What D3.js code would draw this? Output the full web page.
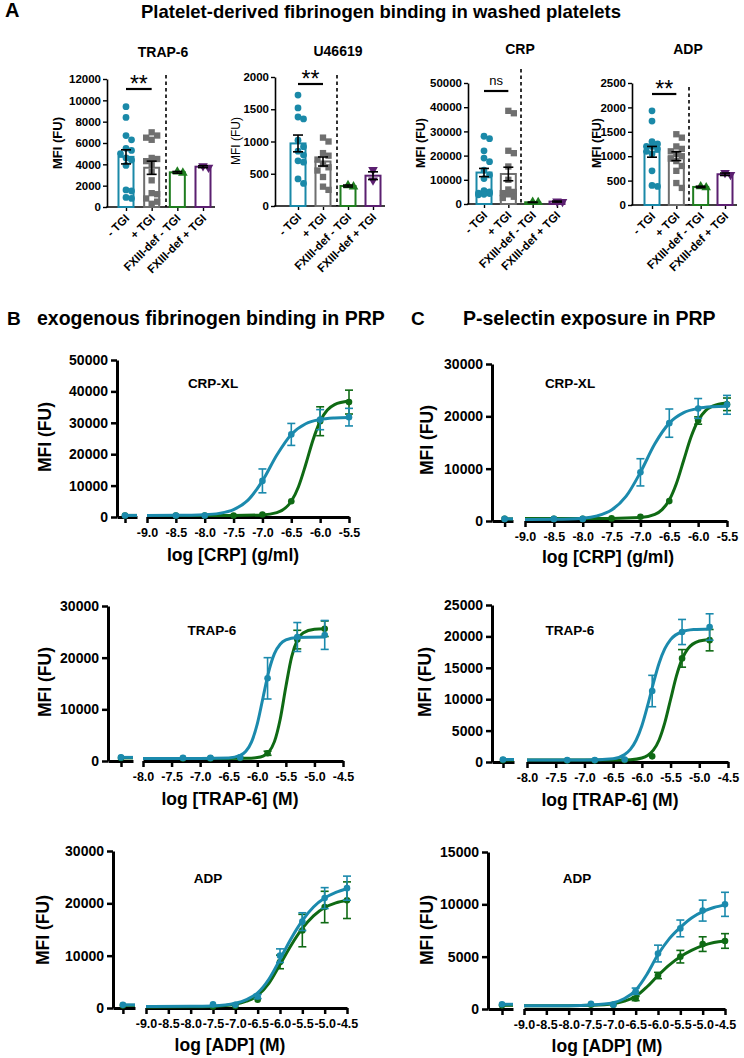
<!DOCTYPE html>
<html><head><meta charset="utf-8">
<script src="https://cdn.jsdelivr.net/npm/d3@7"></script>
<style>
body{margin:0;background:#fff}
svg{display:block}
text{font-family:"Liberation Sans",Arial,Helvetica,sans-serif}
</style>
</head><body>
<svg id="c" width="744" height="1058"></svg>
<script>
// ---------------- DATA : panel A ----------------
const barGroups = ["- TGI", "+ TGI", "FXIII-def - TGI", "FXIII-def + TGI"];
const barPanels = ["TRAP-6", "U46619", "CRP", "ADP"];
const barYMax = [12000, 2000, 50000, 2500];
const barYStep = [2000, 500, 10000, 500];
const sigLabels = ["**", "**", "ns", "**"];

const trapMeans = [4700, 3680, 3250, 3780];
const trapSems = [660, 620, 80, 90];
const trapPts = [
  [9400, 8400, 6700, 6300, 5500, 5300, 5000, 4600, 4400, 3900, 1600, 1500, 900, 800],
  [7000, 6700, 6500, 6300, 4600, 4500, 4300, 4000, 3300, 2500, 1300, 1200, 800, 500, 300],
  [3200, 3300],
  [3850, 3700]
];
const u466Means = [970, 690, 310, 470];
const u466Sems = [130, 70, 15, 60];
const u466Pts = [
  [1720, 1520, 1380, 1350, 1020, 920, 850, 790, 700, 680, 420, 350],
  [1060, 1000, 820, 780, 720, 650, 600, 550, 450, 300, 250],
  [300, 320],
  [560, 400]
];
const crpMeans = [13000, 12400, 700, 1000];
const crpSems = [1700, 2800, 100, 200];
const crpPts = [
  [28000, 27000, 22000, 19000, 17500, 14000, 12000, 10500, 5500, 5000, 4500, 4300, 4000, 3800],
  [38500, 37500, 22000, 21000, 15500, 10000, 6000, 5000, 4500, 4000, 3000, 2500],
  [700, 800],
  [1100, 900]
];
const adpMeans = [1090, 1000, 370, 630];
const adpSems = [110, 90, 15, 25];
const adpPts = [
  [1930, 1720, 1300, 1250, 1200, 1200, 1150, 1100, 1050, 700, 400, 380],
  [1450, 1380, 1200, 1150, 1100, 1050, 1000, 950, 900, 800, 700, 450, 350],
  [380, 360],
  [660, 620]
];

// ---------------- DATA : panels B / C ----------------
const crpTicks = [-9.0, -8.5, -8.0, -7.5, -7.0, -6.5, -6.0, -5.5];
const trapTicks = [-8.0, -7.5, -7.0, -6.5, -6.0, -5.5, -5.0, -4.5];
const adpTicks = [-9.0, -8.5, -8.0, -7.5, -7.0, -6.5, -6.0, -5.5, -5.0, -4.5];

// B1 fibrinogen / CRP-XL
const fibCrpTealX = [-8.5, -8.0, -7.0, -6.5, -6.0, -5.5];
const fibCrpTealY = [500, 500, 11500, 26300, 31000, 31800];
const fibCrpTealSem = [150, 150, 3800, 3500, 3200, 2800];
const fibCrpGreenX = [-8.5, -8.0, -7.5, -7.0, -6.5, -6.0, -5.5];
const fibCrpGreenY = [500, 500, 500, 800, 5000, 30500, 36600];
const fibCrpGreenSem = [100, 100, 100, 200, 400, 4600, 3800];
const fibCrpTealCurveX = [-9.0, -8.5, -8.0, -7.75, -7.5, -7.25, -7.0, -6.75, -6.5, -6.25, -6.0, -5.75, -5.5];
const fibCrpTealCurveY = [500, 525, 725, 1150, 2350, 5360, 11490, 19740, 26290, 29700, 31040, 31540, 31700];
const fibCrpGreenCurveX = [-9.0, -8.0, -7.5, -7.0, -6.75, -6.5, -6.375, -6.25, -6.125, -6.0, -5.875, -5.75, -5.5];
const fibCrpGreenCurveY = [500, 500, 505, 660, 1385, 5000, 9650, 16700, 24450, 30500, 34050, 35800, 36940];
const fibCrpVehicle = [500, 500];

// B2 fibrinogen / TRAP-6
const fibTrapX = [-7.3, -6.82, -6.3, -5.82, -5.3, -4.82];
const fibTrapTealY = [600, 600, 700, 16000, 24000, 24400];
const fibTrapTealSem = [100, 100, 150, 4000, 2800, 2800];
const fibTrapGreenY = [500, 500, 600, 1500, 23500, 25600];
const fibTrapGreenSem = [100, 100, 100, 400, 1800, 1500];
const fibTrapTealCurveX = [-8.0, -7.0, -6.5, -6.3, -6.2, -6.1, -6.0, -5.9, -5.8, -5.7, -5.6, -5.5, -5.3, -4.82];
const fibTrapTealCurveY = [500, 500, 593, 1080, 1894, 3715, 7190, 12250, 17310, 20780, 22610, 23420, 23900, 24000];
const fibTrapGreenCurveX = [-8.0, -6.5, -6.2, -6.0, -5.9, -5.8, -5.7, -5.6, -5.5, -5.4, -5.3, -5.2, -5.0, -4.82];
const fibTrapGreenCurveY = [500, 500, 519, 656, 940, 1730, 3750, 8040, 14380, 20110, 23380, 24780, 25500, 25600];
const fibTrapVehicle = [700, 600];

// B3 fibrinogen / ADP
const fibAdpX = [-7.5, -7.0, -6.5, -6.0, -5.5, -5.0, -4.5];
const fibAdpTealY = [700, 600, 2200, 10000, 16500, 21000, 22900];
const fibAdpTealSem = [150, 150, 400, 1300, 1700, 2000, 2300];
const fibAdpGreenY = [300, 400, 1600, 8800, 14800, 19300, 20600];
const fibAdpGreenSem = [100, 100, 300, 1300, 3100, 3000, 3500];
const fibAdpCurveX = [-9.0, -8.0, -7.5, -7.0, -6.75, -6.5, -6.25, -6.0, -5.75, -5.5, -5.25, -5.0, -4.75, -4.5];
const fibAdpTealCurveY = [300, 320, 400, 900, 1600, 2900, 5500, 9300, 13300, 16700, 19300, 21000, 22100, 22800];
const fibAdpGreenCurveY = [200, 220, 300, 700, 1300, 2400, 4700, 8300, 12000, 15200, 17600, 19200, 20100, 20600];
const fibAdpVehicle = [600, 500];

// C1 P-selectin / CRP-XL
const pselCrpTealX = [-8.5, -8.0, -7.0, -6.5, -6.0, -5.5];
const pselCrpTealY = [400, 400, 9300, 18700, 21500, 22200];
const pselCrpTealSem = [100, 100, 2600, 2700, 1900, 1800];
const pselCrpGreenX = [-8.5, -8.0, -7.5, -7.0, -6.5, -6.0, -5.5];
const pselCrpGreenY = [400, 400, 500, 800, 3800, 19200, 22300];
const pselCrpGreenSem = [100, 100, 100, 150, 300, 700, 1200];
const pselCrpTealCurveX = [-9.0, -8.5, -8.0, -7.75, -7.5, -7.25, -7.0, -6.75, -6.5, -6.25, -6.0, -5.75, -5.5];
const pselCrpTealCurveY = [300, 330, 547, 980, 2100, 4690, 9300, 14750, 18700, 20700, 21520, 21830, 21930];
const pselCrpGreenCurveX = [-9.0, -7.5, -7.0, -6.75, -6.625, -6.5, -6.375, -6.25, -6.125, -6.0, -5.875, -5.75, -5.5];
const pselCrpGreenCurveY = [500, 500, 646, 1250, 2170, 4000, 7210, 11600, 15990, 19200, 21040, 21950, 22550];
const pselCrpVehicle = [400, 400];

// C2 P-selectin / TRAP-6
const pselTrapX = [-7.3, -6.82, -6.3, -5.82, -5.3, -4.82];
const pselTrapTealY = [300, 300, 400, 11300, 20700, 21500];
const pselTrapTealSem = [80, 80, 100, 2500, 2000, 2100];
const pselTrapGreenY = [250, 250, 300, 900, 16500, 19400];
const pselTrapGreenSem = [80, 80, 80, 200, 1400, 1700];
const pselTrapTealCurveX = [-8.0, -7.0, -6.5, -6.3, -6.2, -6.1, -6.0, -5.9, -5.8, -5.7, -5.6, -5.5, -5.3, -5.1, -4.82];
const pselTrapTealCurveY = [300, 300, 530, 1190, 2010, 3460, 5770, 8970, 12530, 15730, 18040, 19490, 20740, 21080, 21190];
const pselTrapGreenCurveX = [-8.0, -6.5, -6.2, -6.0, -5.9, -5.8, -5.7, -5.6, -5.5, -5.4, -5.3, -5.2, -5.0, -4.82];
const pselTrapGreenCurveY = [300, 300, 370, 640, 1040, 1880, 3510, 6260, 9950, 13640, 16380, 18020, 19260, 19520];
const pselTrapVehicle = [400, 300];

// C3 P-selectin / ADP
const pselAdpX = [-7.5, -7.0, -6.5, -6.0, -5.5, -5.0, -4.5];
const pselAdpTealY = [500, 400, 1700, 5300, 7700, 9400, 10000];
const pselAdpTealSem = [100, 100, 300, 800, 800, 1000, 1150];
const pselAdpGreenY = [400, 400, 1000, 3200, 5000, 6200, 6500];
const pselAdpGreenSem = [100, 100, 200, 300, 600, 700, 700];
const pselAdpCurveX = [-9.0, -8.0, -7.5, -7.0, -6.75, -6.5, -6.25, -6.0, -5.75, -5.5, -5.25, -5.0, -4.75, -4.5];
const pselAdpTealCurveY = [300, 320, 380, 600, 1000, 1800, 3300, 5200, 6700, 7800, 8700, 9300, 9700, 9950];
const pselAdpGreenCurveY = [300, 310, 350, 500, 750, 1200, 2100, 3200, 4200, 5000, 5600, 6050, 6350, 6500];
const pselAdpVehicle = [450, 350];

// ---------------- DRAWING ----------------
const svg = d3.select("#c");
const TEAL = "#1a89a8", GRAY = "#6f6f6f", GREEN_A = "#1f7d1f", PURPLE = "#5b1f70";
const C_TEAL = "#1b8aad", C_GREEN = "#0f6a14";
const barColors = [TEAL, GRAY, GREEN_A, PURPLE];
const barSymbols = [d3.symbolCircle, d3.symbolSquare, d3.symbolTriangle, d3.symbolTriangle];
const barSymSize = [36, 40, 40, 40];

function txt(g, x, y, s, size, weight, anchor) {
  return g.append("text").attr("x", x).attr("y", y).attr("font-size", size)
    .attr("font-weight", weight || "bold").attr("text-anchor", anchor || "middle").attr("fill", "#000").text(s);
}
function vtxt(g, cx, cy, s, size, weight) {
  return g.append("text").attr("transform", `translate(${cx + size * 0.36},${cy}) rotate(-90)`)
    .attr("font-size", size).attr("font-weight", weight || "bold").attr("text-anchor", "middle").text(s);
}

function swarm(vals, y, cx, d, maxOff) {
  const order = vals.map((v, i) => i).sort((a, b) => vals[b] - vals[a]);
  const placed = [], xs = new Array(vals.length);
  const cands = [0];
  for (let k = 1; k <= 3; k++) cands.push(k * d * 0.85, -k * d * 0.85);
  order.forEach(i => {
    const py = y(vals[i]);
    let best = 0, bestOv = Infinity;
    for (const o of cands) {
      if (Math.abs(o) > maxOff) continue;
      let ov = 0;
      for (const p of placed) { const dist = Math.hypot(p[0] - o, p[1] - py); if (dist < d) ov += d - dist; }
      if (ov === 0) { best = o; bestOv = 0; break; }
      if (ov < bestOv) { bestOv = ov; best = o; }
    }
    xs[i] = cx + best; placed.push([best, py]);
  });
  return xs;
}

// Title panel A
txt(svg, 5, 17, "A", 20, "bold", "start");
txt(svg, 381, 18, "Platelet-derived fibrinogen binding in washed platelets", 18.5);

const barLayouts = [
  {axisX:107, axisEnd:215, y0:207, yTop:79, c0:126, c3:203, dashX:166, dashTop:75, tx:163, ty:57, lx:57, ly:143, lfs:13, lw:"bold", sigY:89},
  {axisX:275, axisEnd:385, y0:206, yTop:77, c0:298, c3:373, dashX:337, dashTop:75, tx:338, ty:56, lx:236, ly:141, lfs:12, lw:"normal", sigY:84},
  {axisX:468, axisEnd:563, y0:204, yTop:83, c0:484, c3:557, dashX:521, dashTop:69, tx:520, ty:54, lx:420, ly:143, lfs:12.5, lw:"bold", sigY:91},
  {axisX:632, axisEnd:737, y0:205, yTop:83, c0:652, c3:725, dashX:689, dashTop:87, tx:688, ty:54, lx:596, ly:143, lfs:12.5, lw:"bold", sigY:94}
];
const barSets = [
  {means: trapMeans, sems: trapSems, pts: trapPts},
  {means: u466Means, sems: u466Sems, pts: u466Pts},
  {means: crpMeans, sems: crpSems, pts: crpPts},
  {means: adpMeans, sems: adpSems, pts: adpPts}
];

barLayouts.forEach((L, k) => {
  const D = barSets[k];
  const g = svg.append("g");
  const y = d3.scaleLinear().domain([0, barYMax[k]]).range([L.y0, L.yTop]);
  const x = d3.scalePoint().domain(barGroups).range([L.c0, L.c3]);
  const ya = g.append("g").attr("transform", `translate(${L.axisX},0)`)
    .call(d3.axisLeft(y).tickValues(d3.range(0, barYMax[k] + 1, barYStep[k])).tickSize(4).tickSizeOuter(0).tickPadding(2).tickFormat(d3.format("d")));
  ya.select(".domain").attr("stroke-width", 1.6);
  ya.selectAll(".tick line").attr("stroke-width", 1.4);
  ya.selectAll("text").attr("font-size", 11.5).attr("font-weight", "bold").attr("fill", "#000");
  g.append("line").attr("x1", L.axisX - 0.8).attr("x2", L.axisEnd).attr("y1", L.y0).attr("y2", L.y0).attr("stroke", "#000").attr("stroke-width", 1.6);
  const xa = g.append("g").attr("transform", `translate(0,${L.y0})`).call(d3.axisBottom(x).tickSize(4).tickFormat(""));
  xa.select(".domain").remove();
  xa.selectAll(".tick line").attr("stroke-width", 1.4);
  barGroups.forEach(lbl => {
    g.append("text").attr("transform", `translate(${x(lbl) + 4},${L.y0 + 12}) rotate(-45)`)
      .attr("text-anchor", "end").attr("font-size", 11.5).attr("font-weight", "bold").text(lbl);
  });
  // bars
  D.means.forEach((m, i) => {
    g.append("rect").attr("x", x(barGroups[i]) - 7.5).attr("y", y(m)).attr("width", 15)
      .attr("height", Math.max(0, L.y0 - y(m))).attr("fill", "#fff").attr("stroke", barColors[i]).attr("stroke-width", 2);
  });
  // points
  D.pts.forEach((vals, i) => {
    const xs = swarm(vals, y, x(barGroups[i]), 6.5, 6);
    const sym = d3.symbol().type(barSymbols[i]).size(barSymSize[i]);
    vals.forEach((v, j) => {
      g.append("path").attr("d", sym()).attr("fill", barColors[i])
        .attr("transform", `translate(${xs[j]},${y(v)})` + (i === 3 ? " rotate(180)" : ""));
    });
  });
  // error bars
  D.means.forEach((m, i) => {
    const cx = x(barGroups[i]), s = D.sems[i];
    const eb = g.append("g").attr("stroke", "#000").attr("stroke-width", 1.6);
    eb.append("line").attr("x1", cx).attr("x2", cx).attr("y1", y(m - s)).attr("y2", y(m + s));
    [m - s, m + s].forEach(v => eb.append("line").attr("x1", cx - 5).attr("x2", cx + 5).attr("y1", y(v)).attr("y2", y(v)));
  });
  // dashed separator
  g.append("line").attr("x1", L.dashX).attr("x2", L.dashX).attr("y1", L.dashTop).attr("y2", L.y0)
    .attr("stroke", "#000").attr("stroke-width", 1.6).attr("stroke-dasharray", "3.5,3");
  // significance
  g.append("line").attr("x1", x(barGroups[0])).attr("x2", x(barGroups[1])).attr("y1", L.sigY).attr("y2", L.sigY)
    .attr("stroke", "#000").attr("stroke-width", 2.2);
  const mid = (x(barGroups[0]) + x(barGroups[1])) / 2;
  if (sigLabels[k] === "ns") txt(g, mid, L.sigY - 6, "ns", 13, "normal");
  else txt(g, mid, L.sigY + 3, sigLabels[k], 23, "normal");
  // titles
  txt(g, L.tx, L.ty, barPanels[k], 14);
  vtxt(g, L.lx, L.ly, "MFI (FU)", L.lfs, L.lw);
});

// Titles panels B / C
txt(svg, 7, 325, "B", 19, "bold", "start");
txt(svg, 37, 325, "exogenous fibrinogen binding in PRP", 19.5, "bold", "start");
txt(svg, 411, 325, "C", 19, "bold", "start");
txt(svg, 463, 325, "P-selectin exposure in PRP", 19.5, "bold", "start");

function doseChart(L, D) {
  const g = svg.append("g");
  const y = d3.scaleLinear().domain([0, L.yMax]).range([L.y0, L.yTop]);
  const x = d3.scaleLinear().domain(L.dom).range([L.x0, L.x1]);
  const xb = d3.scaleLinear().domain([0, 1]).range([L.axisX, L.brkEnd]);
  const ya = g.append("g").attr("transform", `translate(${L.axisX},0)`)
    .call(d3.axisLeft(y).tickValues(d3.range(0, L.yMax + 1, L.yStep)).tickSize(6).tickSizeOuter(0).tickPadding(3).tickFormat(d3.format("d")));
  ya.select(".domain").attr("stroke-width", 3);
  ya.selectAll(".tick line").attr("stroke-width", 2.5);
  ya.selectAll("text").attr("font-size", 14).attr("font-weight", "bold").attr("fill", "#000");
  const xba = g.append("g").attr("transform", `translate(0,${L.y0})`)
    .call(d3.axisBottom(xb).tickValues([L.vf]).tickSize(6).tickSizeOuter(0).tickFormat(""));
  xba.select(".domain").attr("stroke-width", 3);
  xba.selectAll(".tick line").attr("stroke-width", 2.5);
  const xa = g.append("g").attr("transform", `translate(0,${L.y0})`)
    .call(d3.axisBottom(x).tickValues(D.ticks).tickSize(6).tickSizeOuter(0).tickPadding(5).tickFormat(v => v.toFixed(1)));
  xa.select(".domain").attr("stroke-width", 3);
  xa.selectAll(".tick line").attr("stroke-width", 2.5);
  xa.selectAll("text").attr("font-size", 12.5).attr("font-weight", "bold").attr("fill", "#000");

  const line = d3.line().x(p => x(p[0])).y(p => y(p[1])).curve(d3.curveMonotoneX);
  const series = [
    {c: C_GREEN, cx: D.gcx, cy: D.gcy, px: D.gpx, py: D.gpy, ps: D.gps, veh: D.veh[1]},
    {c: C_TEAL, cx: D.tcx, cy: D.tcy, px: D.tpx, py: D.tpy, ps: D.tps, veh: D.veh[0]}
  ];
  series.forEach(S => {
    g.append("line").attr("x1", xb(L.vf)).attr("x2", xb(1)).attr("y1", y(S.veh)).attr("y2", y(S.veh))
      .attr("stroke", S.c).attr("stroke-width", 3);
    g.append("circle").attr("cx", xb(L.vf)).attr("cy", y(S.veh)).attr("r", 3.3).attr("fill", S.c);
    g.append("path").datum(S.cx.map((v, i) => [v, S.cy[i]])).attr("d", line)
      .attr("fill", "none").attr("stroke", S.c).attr("stroke-width", 3);
    S.px.forEach((v, i) => {
      const cxp = x(v), m = S.py[i], s = S.ps[i];
      const eb = g.append("g").attr("stroke", S.c).attr("stroke-width", 1.6);
      if (y(m - s) - y(m + s) > 4) {
        eb.append("line").attr("x1", cxp).attr("x2", cxp).attr("y1", y(m - s)).attr("y2", y(m + s));
        [m - s, m + s].forEach(w => eb.append("line").attr("x1", cxp - 4).attr("x2", cxp + 4).attr("y1", y(w)).attr("y2", y(w)));
      }
      g.append("circle").attr("cx", cxp).attr("cy", y(m)).attr("r", 3.3).attr("fill", S.c);
    });
  });
  txt(g, L.lblX, L.lblY, D.label, 13.5);
  txt(g, L.xtX, L.xtY, D.xtitle, 17.5);
  vtxt(g, L.ylX, L.ylY, "MFI (FU)", 17.5);
}

const doseLayouts = [
  {axisX:117, brkEnd:137, vf:0.4, x0:147, x1:349, dom:[-9, -5.5], y0:517, yTop:360, yMax:50000, yStep:10000, lblX:213, lblY:388, xtX:233, xtY:561, ylX:45, ylY:437},
  {axisX:108, brkEnd:133, vf:0.52, x0:143, x1:343, dom:[-8, -4.5], y0:761, yTop:606, yMax:30000, yStep:10000, lblX:212, lblY:635, xtX:230, xtY:805, ylX:45, ylY:682},
  {axisX:113, brkEnd:135, vf:0.45, x0:146, x1:347, dom:[-9, -4.5], y0:1008, yTop:851, yMax:30000, yStep:10000, lblX:208, lblY:883, xtX:230, xtY:1051, ylX:43, ylY:930},
  {axisX:492, brkEnd:513, vf:0.6, x0:525, x1:727, dom:[-9, -5.5], y0:521, yTop:364, yMax:30000, yStep:10000, lblX:570, lblY:388, xtX:608, xtY:563, ylX:427, ylY:440},
  {axisX:492, brkEnd:514, vf:0.5, x0:527, x1:728, dom:[-8, -4.5], y0:762, yTop:605, yMax:25000, yStep:5000, lblX:570, lblY:635, xtX:610, xtY:806, ylX:425, ylY:682},
  {axisX:488, brkEnd:513, vf:0.56, x0:524, x1:725, dom:[-9, -4.5], y0:1009, yTop:852, yMax:15000, yStep:5000, lblX:577, lblY:883, xtX:607, xtY:1052, ylX:427, ylY:930}
];
const doseSets = [
  {ticks: crpTicks, label: "CRP-XL", xtitle: "log [CRP] (g/ml)", veh: fibCrpVehicle,
   tcx: fibCrpTealCurveX, tcy: fibCrpTealCurveY, gcx: fibCrpGreenCurveX, gcy: fibCrpGreenCurveY,
   tpx: fibCrpTealX, tpy: fibCrpTealY, tps: fibCrpTealSem, gpx: fibCrpGreenX, gpy: fibCrpGreenY, gps: fibCrpGreenSem},
  {ticks: trapTicks, label: "TRAP-6", xtitle: "log [TRAP-6] (M)", veh: fibTrapVehicle,
   tcx: fibTrapTealCurveX, tcy: fibTrapTealCurveY, gcx: fibTrapGreenCurveX, gcy: fibTrapGreenCurveY,
   tpx: fibTrapX, tpy: fibTrapTealY, tps: fibTrapTealSem, gpx: fibTrapX, gpy: fibTrapGreenY, gps: fibTrapGreenSem},
  {ticks: adpTicks, label: "ADP", xtitle: "log [ADP] (M)", veh: fibAdpVehicle,
   tcx: fibAdpCurveX, tcy: fibAdpTealCurveY, gcx: fibAdpCurveX, gcy: fibAdpGreenCurveY,
   tpx: fibAdpX, tpy: fibAdpTealY, tps: fibAdpTealSem, gpx: fibAdpX, gpy: fibAdpGreenY, gps: fibAdpGreenSem},
  {ticks: crpTicks, label: "CRP-XL", xtitle: "log [CRP] (g/ml)", veh: pselCrpVehicle,
   tcx: pselCrpTealCurveX, tcy: pselCrpTealCurveY, gcx: pselCrpGreenCurveX, gcy: pselCrpGreenCurveY,
   tpx: pselCrpTealX, tpy: pselCrpTealY, tps: pselCrpTealSem, gpx: pselCrpGreenX, gpy: pselCrpGreenY, gps: pselCrpGreenSem},
  {ticks: trapTicks, label: "TRAP-6", xtitle: "log [TRAP-6] (M)", veh: pselTrapVehicle,
   tcx: pselTrapTealCurveX, tcy: pselTrapTealCurveY, gcx: pselTrapGreenCurveX, gcy: pselTrapGreenCurveY,
   tpx: pselTrapX, tpy: pselTrapTealY, tps: pselTrapTealSem, gpx: pselTrapX, gpy: pselTrapGreenY, gps: pselTrapGreenSem},
  {ticks: adpTicks, label: "ADP", xtitle: "log [ADP] (M)", veh: pselAdpVehicle,
   tcx: pselAdpCurveX, tcy: pselAdpTealCurveY, gcx: pselAdpCurveX, gcy: pselAdpGreenCurveY,
   tpx: pselAdpX, tpy: pselAdpTealY, tps: pselAdpTealSem, gpx: pselAdpX, gpy: pselAdpGreenY, gps: pselAdpGreenSem}
];
doseLayouts.forEach((L, i) => doseChart(L, doseSets[i]));
</script>
</body></html>
